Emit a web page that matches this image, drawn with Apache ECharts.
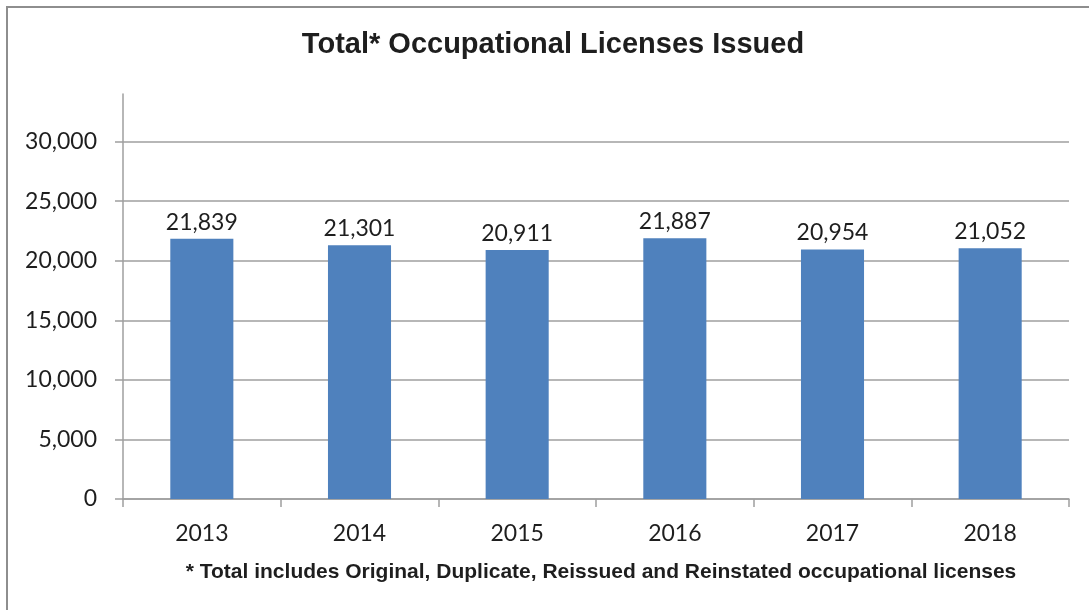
<!DOCTYPE html>
<html>
<head>
<meta charset="utf-8">
<script src="https://cdn.jsdelivr.net/npm/echarts@6/dist/echarts.min.js"></script>
<style>
html,body{margin:0;padding:0;width:1089px;height:610px;overflow:hidden;background:#fff;}
#frame{position:absolute;left:6px;top:6px;width:1100px;height:620px;border:2px solid #8e8e8e;box-sizing:border-box;}
#chart{position:absolute;left:0;top:0;width:1089px;height:610px;}
</style>
</head>
<body>
<div id="frame"></div>
<div id="chart"></div>
<script>
const titleText = 'Total* Occupational Licenses Issued';
const footnote = '* Total includes Original, Duplicate, Reissued and Reinstated occupational licenses';
const categories = ['2013', '2014', '2015', '2016', '2017', '2018'];
const licenses = [21839, 21301, 20911, 21887, 20954, 21052];
const yTicks = [0, 5000, 10000, 15000, 20000, 25000, 30000];

const fmt = v => v.toLocaleString('en-US');
const axisGrey = '#9f9f9f';
const textColor = '#1e1e1e';
const labelFont = 'Lato, "Open Sans", sans-serif';

const chart = echarts.init(document.getElementById('chart'), null, {renderer: 'canvas'});
chart.setOption({
  animation: false,
  title: [
    {
      text: titleText, left: 548, top: 25, textAlign: 'center',
      textStyle: {fontFamily: '"Liberation Sans", Arial, sans-serif', fontWeight: 'bold', fontSize: 29, color: textColor}
    },
    {
      text: footnote, left: 596, top: 557, textAlign: 'center',
      textStyle: {fontFamily: '"Liberation Sans", Arial, sans-serif', fontWeight: 'bold', fontSize: 21, color: textColor}
    }
  ],
  grid: {left: 123, right: 20, top: 94, bottom: 111, containLabel: false},
  xAxis: {
    type: 'category', data: categories,
    axisLine: {lineStyle: {color: axisGrey, width: 1.5}},
    axisTick: {show: true, length: 8, lineStyle: {color: axisGrey, width: 1.5}},
    axisLabel: {margin: 23, fontFamily: labelFont, fontSize: 23, color: textColor}
  },
  yAxis: {
    type: 'value', min: 0, max: 34000, interval: 5000,
    axisLine: {show: true, lineStyle: {color: axisGrey, width: 1.5}},
    axisTick: {show: true, length: 8, lineStyle: {color: axisGrey, width: 1.5}, customValues: yTicks},
    axisLabel: {margin: 26, fontFamily: labelFont, fontSize: 23, color: textColor, customValues: yTicks, formatter: v => fmt(v)},
    splitLine: {show: true, lineStyle: {color: axisGrey, width: 1.5}}
  },
  series: [{
    type: 'bar', data: licenses, barWidth: '40%',
    itemStyle: {color: '#4f81bd'},
    label: {show: true, position: 'top', distance: 5, fontFamily: labelFont, fontSize: 23, color: textColor, formatter: p => fmt(p.value)}
  }]
});
</script>
</body>
</html>
